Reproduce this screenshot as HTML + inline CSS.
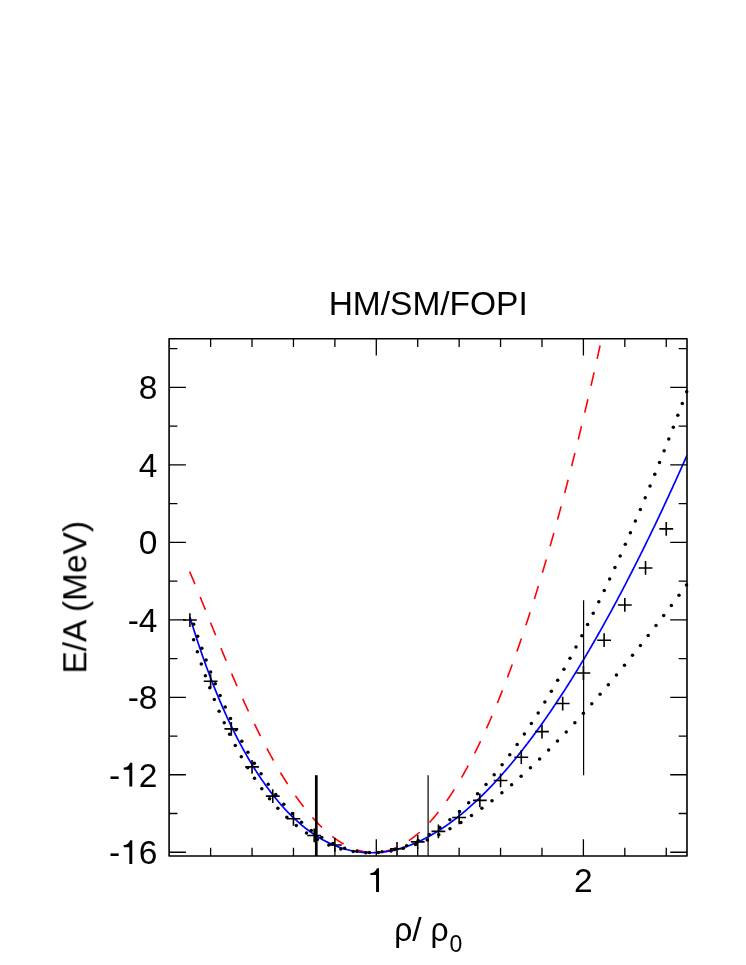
<!DOCTYPE html>
<html><head><meta charset="utf-8"><title>HM/SM/FOPI</title>
<style>html,body{margin:0;padding:0;background:#fff}body{width:746px;height:965px;overflow:hidden;font-family:"Liberation Sans",sans-serif}svg{display:block}</style>
</head><body>
<svg width="746" height="965" viewBox="0 0 746 965">
<defs><clipPath id="c"><rect x="169.10" y="338.80" width="517.90" height="517.20"/></clipPath></defs>
<rect x="0" y="0" width="746" height="965" fill="#fff"/>
<g clip-path="url(#c)" fill="none">
<path d="M189.60 571.50 L189.89 572.18 L190.18 572.85 L190.47 573.53 L190.76 574.22 L191.05 574.90 L191.34 575.58 L191.63 576.27 L191.92 576.96 L192.21 577.65 L192.50 578.34 L192.79 579.03 L193.08 579.72 L193.37 580.42 L193.66 581.11 L193.95 581.81 L194.24 582.51 L194.54 583.21 L194.83 583.91 L195.12 584.61 L195.41 585.32 L195.70 586.02 L195.99 586.72 L196.28 587.43 L196.57 588.14 L196.86 588.84 L197.15 589.55 L197.44 590.26 L197.73 590.97 L198.02 591.68 L198.31 592.39 L198.60 593.10 L198.89 593.82 L199.18 594.53 L199.47 595.24 L199.76 595.96 L200.05 596.67 L200.34 597.39 L200.63 598.10 L200.92 598.82 L201.21 599.53 L201.50 600.25 L201.79 600.97 L202.08 601.69 L202.37 602.40 L202.66 603.12 L202.96 603.84 L203.25 604.56 L203.54 605.28 L203.83 606.00 L204.12 606.71 L204.41 607.43 L204.70 608.15 L204.99 608.87 L205.28 609.59 L205.57 610.31 L205.86 611.03 L206.15 611.75 L206.44 612.47 L206.73 613.19 L207.02 613.91 L207.31 614.63 L207.60 615.35 L207.89 616.07 L208.18 616.79 L208.47 617.51 L208.76 618.23 L209.05 618.95 L209.34 619.67 L209.63 620.39 L209.92 621.11 L210.21 621.83 L210.50 622.55 L210.79 623.27 L211.08 623.99 L211.37 624.70 L211.67 625.42 L211.96 626.14 L212.25 626.86 L212.54 627.57 L212.83 628.29 L213.12 629.01 L213.41 629.72 L213.70 630.44 L213.99 631.16 L214.28 631.87 L214.57 632.59 L214.86 633.30 L215.15 634.02 L215.44 634.73 L215.73 635.44 L216.02 636.16 L216.31 636.87 L216.60 637.58 L216.89 638.29 L217.18 639.00 L217.47 639.71 L217.76 640.43 L218.05 641.14 L218.34 641.84 L218.63 642.55 L218.92 643.26 L219.21 643.97 L219.50 644.68 L219.79 645.38 L220.09 646.09 L220.38 646.80 L220.67 647.50 L220.96 648.21 L221.25 648.91 L221.54 649.61 L221.83 650.32 L222.12 651.02 L222.41 651.72 L222.70 652.42 L222.99 653.12 L223.28 653.82 L223.57 654.52 L223.86 655.22 L224.15 655.92 L224.44 656.61 L224.73 657.31 L225.02 658.00 L225.31 658.70 L225.60 659.39 L225.89 660.09 L226.18 660.78 L226.47 661.47 L226.76 662.16 L227.05 662.85 L227.34 663.54 L227.63 664.23 L227.92 664.92 L228.21 665.61 L228.50 666.30 L228.80 666.98 L229.09 667.67 L229.38 668.35 L229.67 669.04 L229.96 669.72 L230.25 670.40 L230.54 671.08 L230.83 671.76 L231.12 672.44 L231.41 673.12 L231.70 673.80 L231.99 674.48 L232.28 675.15 L232.57 675.83 L232.86 676.50 L233.15 677.18 L233.44 677.85 L233.73 678.52 L234.02 679.19 L234.31 679.86 L234.60 680.53 L234.89 681.20 L235.18 681.87 L235.47 682.54 L235.76 683.20 L236.05 683.87 L236.34 684.53 L236.63 685.19 L236.92 685.85 L237.22 686.52 L237.51 687.18 L237.80 687.84 L238.09 688.49 L238.38 689.15 L238.67 689.81 L238.96 690.46 L239.25 691.12 L239.54 691.77 L239.83 692.42 L240.12 693.08 L240.41 693.73 L240.70 694.38 L240.99 695.02 L241.28 695.67 L241.57 696.32 L241.86 696.96 L242.15 697.61 L242.44 698.25 L242.73 698.89 L243.02 699.54 L243.31 700.18 L243.60 700.82 L243.89 701.45 L244.18 702.09 L244.47 702.73 L244.76 703.36 L245.05 704.00 L245.34 704.63 L245.64 705.26 L245.93 705.89 L246.22 706.52 L246.51 707.15 L246.80 707.78 L247.09 708.41 L247.38 709.03 L247.67 709.66 L247.96 710.28 L248.25 710.90 L248.54 711.53 L248.83 712.15 L249.12 712.77 L249.41 713.38 L249.70 714.00 L249.99 714.62 L250.28 715.23 L250.57 715.85 L250.86 716.46 L251.15 717.07 L251.44 717.68 L251.73 718.29 L252.02 718.90 L252.31 719.50 L252.60 720.11 L252.89 720.71 L253.18 721.32 L253.47 721.92 L253.76 722.52 L254.05 723.12 L254.35 723.72 L254.64 724.32 L254.93 724.91 L255.22 725.51 L255.51 726.10 L255.80 726.70 L256.09 727.29 L256.38 727.88 L256.67 728.47 L256.96 729.06 L257.25 729.65 L257.54 730.23 L257.83 730.82 L258.12 731.40 L258.41 731.98 L258.70 732.56 L258.99 733.14 L259.28 733.72 L259.57 734.30 L259.86 734.88 L260.15 735.45 L260.44 736.03 L260.73 736.60 L261.02 737.17 L261.31 737.74 L261.60 738.31 L261.89 738.88 L262.18 739.45 L262.47 740.01 L262.77 740.58 L263.06 741.14 L263.35 741.70 L263.64 742.26 L263.93 742.82 L264.22 743.38 L264.51 743.93 L264.80 744.49 L265.09 745.04 L265.38 745.60 L265.67 746.15 L265.96 746.70 L266.25 747.25 L266.54 747.80 L266.83 748.34 L267.12 748.89 L267.41 749.43 L267.70 749.98 L267.99 750.52 L268.28 751.06 L268.57 751.60 L268.86 752.14 L269.15 752.67 L269.44 753.21 L269.73 753.74 L270.02 754.28 L270.31 754.81 L270.60 755.34 L270.89 755.87 L271.19 756.39 L271.48 756.92 L271.77 757.45 L272.06 757.97 L272.35 758.49 L272.64 759.01 L272.93 759.53 L273.22 760.05 L273.51 760.57 L273.80 761.08 L274.09 761.60 L274.38 762.11 L274.67 762.62 L274.96 763.14 L275.25 763.64 L275.54 764.15 L275.83 764.66 L276.12 765.16 L276.41 765.67 L276.70 766.17 L276.99 766.67 L277.28 767.17 L277.57 767.67 L277.86 768.17 L278.15 768.67 L278.44 769.16 L278.73 769.65 L279.02 770.15 L279.31 770.64 L279.60 771.13 L279.90 771.61 L280.19 772.10 L280.48 772.59 L280.77 773.07 L281.06 773.55 L281.35 774.03 L281.64 774.51 L281.93 774.99 L282.22 775.47 L282.51 775.95 L282.80 776.42 L283.09 776.89 L283.38 777.36 L283.67 777.83 L283.96 778.30 L284.25 778.77 L284.54 779.24 L284.83 779.70 L285.12 780.17 L285.41 780.63 L285.70 781.09 L285.99 781.55 L286.28 782.01 L286.57 782.46 L286.86 782.92 L287.15 783.37 L287.44 783.83 L287.73 784.28 L288.02 784.73 L288.32 785.17 L288.61 785.62 L288.90 786.07 L289.19 786.51 L289.48 786.95 L289.77 787.40 L290.06 787.84 L290.35 788.27 L290.64 788.71 L290.93 789.15 L291.22 789.58 L291.51 790.01 L291.80 790.45 L292.09 790.88 L292.38 791.30 L292.67 791.73 L292.96 792.16 L293.25 792.58 L293.54 793.01 L293.83 793.43 L294.12 793.85 L294.41 794.27 L294.70 794.68 L294.99 795.10 L295.28 795.51 L295.57 795.93 L295.86 796.34 L296.15 796.75 L296.44 797.16 L296.74 797.57 L297.03 797.97 L297.32 798.38 L297.61 798.78 L297.90 799.18 L298.19 799.58 L298.48 799.98 L298.77 800.38 L299.06 800.77 L299.35 801.17 L299.64 801.56 L299.93 801.95 L300.22 802.34 L300.51 802.73 L300.80 803.12 L301.09 803.51 L301.38 803.89 L301.67 804.27 L301.96 804.66 L302.25 805.04 L302.54 805.41 L302.83 805.79 L303.12 806.17 L303.41 806.54 L303.70 806.91 L303.99 807.29 L304.28 807.66 L304.57 808.02 L304.86 808.39 L305.15 808.76 L305.45 809.12 L305.74 809.48 L306.03 809.85 L306.32 810.21 L306.61 810.56 L306.90 810.92 L307.19 811.28 L307.48 811.63 L307.77 811.98 L308.06 812.33 L308.35 812.68 L308.64 813.03 L308.93 813.38 L309.22 813.72 L309.51 814.07 L309.80 814.41 L310.09 814.75 L310.38 815.09 L310.67 815.43 L310.96 815.76 L311.25 816.10 L311.54 816.43 L311.83 816.76 L312.12 817.09 L312.41 817.42 L312.70 817.75 L312.99 818.07 L313.28 818.40 L313.57 818.72 L313.87 819.04 L314.16 819.36 L314.45 819.68 L314.74 820.00 L315.03 820.31 L315.32 820.63 L315.61 820.94 L315.90 821.25 L316.19 821.56 L316.48 821.87 L316.77 822.18 L317.06 822.48 L317.35 822.78 L317.64 823.09 L317.93 823.39 L318.22 823.69 L318.51 823.98 L318.80 824.28 L319.09 824.57 L319.38 824.87 L319.67 825.16 L319.96 825.45 L320.25 825.74 L320.54 826.02 L320.83 826.31 L321.12 826.59 L321.41 826.88 L321.70 827.16 L321.99 827.44 L322.29 827.71 L322.58 827.99 L322.87 828.27 L323.16 828.54 L323.45 828.81 L323.74 829.08 L324.03 829.35 L324.32 829.62 L324.61 829.88 L324.90 830.15 L325.19 830.41 L325.48 830.67 L325.77 830.93 L326.06 831.19 L326.35 831.45 L326.64 831.70 L326.93 831.96 L327.22 832.21 L327.51 832.46 L327.80 832.71 L328.09 832.96 L328.38 833.20 L328.67 833.45 L328.96 833.69 L329.25 833.93 L329.54 834.17 L329.83 834.41 L330.12 834.65 L330.41 834.88 L330.70 835.12 L331.00 835.35 L331.29 835.58 L331.58 835.81 L331.87 836.04 L332.16 836.26 L332.45 836.49 L332.74 836.71 L333.03 836.93 L333.32 837.15 L333.61 837.37 L333.90 837.59 L334.19 837.80 L334.48 838.02 L334.77 838.23 L335.06 838.44 L335.35 838.65 L335.64 838.86 L335.93 839.06 L336.22 839.27 L336.51 839.47 L336.80 839.67 L337.09 839.87 L337.38 840.07 L337.67 840.27 L337.96 840.46 L338.25 840.66 L338.54 840.85 L338.83 841.04 L339.12 841.23 L339.42 841.41 L339.71 841.60 L340.00 841.79 L340.29 841.97 L340.58 842.15 L340.87 842.33 L341.16 842.51 L341.45 842.68 L341.74 842.86 L342.03 843.03 L342.32 843.21 L342.61 843.38 L342.90 843.54 L343.19 843.71 L343.48 843.88 L343.77 844.04 L344.06 844.20 L344.35 844.37 L344.64 844.53 L344.93 844.68 L345.22 844.84 L345.51 845.00 L345.80 845.15 L346.09 845.30 L346.38 845.45 L346.67 845.60 L346.96 845.75 L347.25 845.89 L347.54 846.04 L347.84 846.18 L348.13 846.32 L348.42 846.46 L348.71 846.60 L349.00 846.73 L349.29 846.87 L349.58 847.00 L349.87 847.13 L350.16 847.26 L350.45 847.39 L350.74 847.52 L351.03 847.64 L351.32 847.76 L351.61 847.89 L351.90 848.01 L352.19 848.12 L352.48 848.24 L352.77 848.36 L353.06 848.47 L353.35 848.58 L353.64 848.70 L353.93 848.80 L354.22 848.91 L354.51 849.02 L354.80 849.12 L355.09 849.23 L355.38 849.33 L355.67 849.43 L355.96 849.53 L356.25 849.62 L356.55 849.72 L356.84 849.81 L357.13 849.90 L357.42 849.99 L357.71 850.08 L358.00 850.17 L358.29 850.25 L358.58 850.34 L358.87 850.42 L359.16 850.50 L359.45 850.58 L359.74 850.66 L360.03 850.74 L360.32 850.81 L360.61 850.88 L360.90 850.95 L361.19 851.02 L361.48 851.09 L361.77 851.16 L362.06 851.22 L362.35 851.29 L362.64 851.35 L362.93 851.41 L363.22 851.47 L363.51 851.52 L363.80 851.58 L364.09 851.63 L364.38 851.69 L364.67 851.74 L364.97 851.79 L365.26 851.83 L365.55 851.88 L365.84 851.92 L366.13 851.97 L366.42 852.01 L366.71 852.05 L367.00 852.08 L367.29 852.12 L367.58 852.15 L367.87 852.19 L368.16 852.22 L368.45 852.25 L368.74 852.28 L369.03 852.30 L369.32 852.33 L369.61 852.35 L369.90 852.37 L370.19 852.39 L370.48 852.41 L370.77 852.43 L371.06 852.45 L371.35 852.46 L371.64 852.47 L371.93 852.48 L372.22 852.49 L372.51 852.50 L372.80 852.50 L373.09 852.51 L373.38 852.51 L373.68 852.51 L373.97 852.51 L374.26 852.51 L374.55 852.50 L374.84 852.50 L375.13 852.49 L375.42 852.48 L375.71 852.47 L376.00 852.46 L376.29 852.45 L376.58 852.43 L376.87 852.42 L377.16 852.40 L377.45 852.38 L377.74 852.36 L378.03 852.33 L378.32 852.31 L378.61 852.28 L378.90 852.25 L379.19 852.22 L379.48 852.19 L379.77 852.16 L380.06 852.13 L380.35 852.09 L380.64 852.05 L380.93 852.01 L381.22 851.97 L381.51 851.93 L381.80 851.88 L382.10 851.84 L382.39 851.79 L382.68 851.74 L382.97 851.69 L383.26 851.64 L383.55 851.58 L383.84 851.53 L384.13 851.47 L384.42 851.41 L384.71 851.35 L385.00 851.29 L385.29 851.23 L385.58 851.16 L385.87 851.10 L386.16 851.03 L386.45 850.96 L386.74 850.88 L387.03 850.81 L387.32 850.74 L387.61 850.66 L387.90 850.58 L388.19 850.50 L388.48 850.42 L388.77 850.34 L389.06 850.25 L389.35 850.17 L389.64 850.08 L389.93 849.99 L390.22 849.90 L390.52 849.80 L390.81 849.71 L391.10 849.61 L391.39 849.52 L391.68 849.42 L391.97 849.31 L392.26 849.21 L392.55 849.11 L392.84 849.00 L393.13 848.89 L393.42 848.78 L393.71 848.67 L394.00 848.56 L394.29 848.45 L394.58 848.33 L394.87 848.21 L395.16 848.10 L395.45 847.97 L395.74 847.85 L396.03 847.73 L396.32 847.60 L396.61 847.48 L396.90 847.35 L397.19 847.22 L397.48 847.08 L397.77 846.95 L398.06 846.82 L398.35 846.68 L398.64 846.54 L398.93 846.40 L399.23 846.26 L399.52 846.11 L399.81 845.97 L400.10 845.82 L400.39 845.67 L400.68 845.52 L400.97 845.37 L401.26 845.22 L401.55 845.06 L401.84 844.91 L402.13 844.75 L402.42 844.59 L402.71 844.43 L403.00 844.26 L403.29 844.10 L403.58 843.93 L403.87 843.76 L404.16 843.59 L404.45 843.42 L404.74 843.25 L405.03 843.08 L405.32 842.90 L405.61 842.72 L405.90 842.54 L406.19 842.36 L406.48 842.18 L406.77 841.99 L407.06 841.81 L407.35 841.62 L407.65 841.43 L407.94 841.24 L408.23 841.05 L408.52 840.85 L408.81 840.65 L409.10 840.46 L409.39 840.26 L409.68 840.06 L409.97 839.85 L410.26 839.65 L410.55 839.44 L410.84 839.24 L411.13 839.03 L411.42 838.82 L411.71 838.60 L412.00 838.39 L412.29 838.17 L412.58 837.96 L412.87 837.74 L413.16 837.52 L413.45 837.29 L413.74 837.07 L414.03 836.84 L414.32 836.62 L414.61 836.39 L414.90 836.16 L415.19 835.92 L415.48 835.69 L415.77 835.45 L416.07 835.22 L416.36 834.98 L416.65 834.74 L416.94 834.49 L417.23 834.25 L417.52 834.01 L417.81 833.76 L418.10 833.51 L418.39 833.26 L418.68 833.01 L418.97 832.75 L419.26 832.50 L419.55 832.24 L419.84 831.98 L420.13 831.72 L420.42 831.46 L420.71 831.19 L421.00 830.93 L421.29 830.66 L421.58 830.39 L421.87 830.12 L422.16 829.85 L422.45 829.58 L422.74 829.30 L423.03 829.02 L423.32 828.75 L423.61 828.47 L423.90 828.18 L424.19 827.90 L424.48 827.61 L424.78 827.33 L425.07 827.04 L425.36 826.75 L425.65 826.46 L425.94 826.16 L426.23 825.87 L426.52 825.57 L426.81 825.27 L427.10 824.97 L427.39 824.67 L427.68 824.37 L427.97 824.06 L428.26 823.75 L428.55 823.45 L428.84 823.14 L429.13 822.82 L429.42 822.51 L429.71 822.19 L430.00 821.88 L430.29 821.56 L430.58 821.24 L430.87 820.92 L431.16 820.59 L431.45 820.27 L431.74 819.94 L432.03 819.61 L432.32 819.28 L432.61 818.95 L432.90 818.62 L433.20 818.28 L433.49 817.95 L433.78 817.61 L434.07 817.27 L434.36 816.92 L434.65 816.58 L434.94 816.24 L435.23 815.89 L435.52 815.54 L435.81 815.19 L436.10 814.84 L436.39 814.49 L436.68 814.13 L436.97 813.77 L437.26 813.41 L437.55 813.05 L437.84 812.69 L438.13 812.33 L438.42 811.96 L438.71 811.60 L439.00 811.23 L439.29 810.86 L439.58 810.49 L439.87 810.11 L440.16 809.74 L440.45 809.36 L440.74 808.98 L441.03 808.60 L441.32 808.22 L441.62 807.84 L441.91 807.45 L442.20 807.06 L442.49 806.68 L442.78 806.29 L443.07 805.89 L443.36 805.50 L443.65 805.10 L443.94 804.71 L444.23 804.31 L444.52 803.91 L444.81 803.51 L445.10 803.10 L445.39 802.70 L445.68 802.29 L445.97 801.88 L446.26 801.47 L446.55 801.06 L446.84 800.65 L447.13 800.23 L447.42 799.81 L447.71 799.39 L448.00 798.97 L448.29 798.55 L448.58 798.13 L448.87 797.70 L449.16 797.28 L449.45 796.85 L449.74 796.42 L450.03 795.98 L450.33 795.55 L450.62 795.12 L450.91 794.68 L451.20 794.24 L451.49 793.80 L451.78 793.36 L452.07 792.91 L452.36 792.47 L452.65 792.02 L452.94 791.57 L453.23 791.12 L453.52 790.67 L453.81 790.21 L454.10 789.76 L454.39 789.30 L454.68 788.84 L454.97 788.38 L455.26 787.92 L455.55 787.46 L455.84 786.99 L456.13 786.52 L456.42 786.05 L456.71 785.58 L457.00 785.11 L457.29 784.64 L457.58 784.16 L457.87 783.68 L458.16 783.20 L458.45 782.72 L458.75 782.24 L459.04 781.76 L459.33 781.27 L459.62 780.78 L459.91 780.29 L460.20 779.80 L460.49 779.31 L460.78 778.82 L461.07 778.32 L461.36 777.82 L461.65 777.32 L461.94 776.82 L462.23 776.32 L462.52 775.82 L462.81 775.31 L463.10 774.80 L463.39 774.29 L463.68 773.78 L463.97 773.27 L464.26 772.75 L464.55 772.24 L464.84 771.72 L465.13 771.20 L465.42 770.68 L465.71 770.16 L466.00 769.63 L466.29 769.11 L466.58 768.58 L466.87 768.05 L467.17 767.52 L467.46 766.98 L467.75 766.45 L468.04 765.91 L468.33 765.38 L468.62 764.84 L468.91 764.29 L469.20 763.75 L469.49 763.21 L469.78 762.66 L470.07 762.11 L470.36 761.56 L470.65 761.01 L470.94 760.46 L471.23 759.90 L471.52 759.35 L471.81 758.79 L472.10 758.23 L472.39 757.67 L472.68 757.10 L472.97 756.54 L473.26 755.97 L473.55 755.40 L473.84 754.83 L474.13 754.26 L474.42 753.69 L474.71 753.11 L475.00 752.54 L475.29 751.96 L475.58 751.38 L475.88 750.80 L476.17 750.21 L476.46 749.63 L476.75 749.04 L477.04 748.45 L477.33 747.86 L477.62 747.27 L477.91 746.67 L478.20 746.08 L478.49 745.48 L478.78 744.88 L479.07 744.28 L479.36 743.68 L479.65 743.08 L479.94 742.47 L480.23 741.86 L480.52 741.26 L480.81 740.64 L481.10 740.03 L481.39 739.42 L481.68 738.80 L481.97 738.19 L482.26 737.57 L482.55 736.95 L482.84 736.32 L483.13 735.70 L483.42 735.07 L483.71 734.45 L484.00 733.82 L484.30 733.18 L484.59 732.55 L484.88 731.92 L485.17 731.28 L485.46 730.64 L485.75 730.00 L486.04 729.36 L486.33 728.72 L486.62 728.08 L486.91 727.43 L487.20 726.78 L487.49 726.13 L487.78 725.48 L488.07 724.83 L488.36 724.17 L488.65 723.52 L488.94 722.86 L489.23 722.20 L489.52 721.54 L489.81 720.88 L490.10 720.21 L490.39 719.54 L490.68 718.88 L490.97 718.21 L491.26 717.53 L491.55 716.86 L491.84 716.19 L492.13 715.51 L492.42 714.83 L492.71 714.15 L493.01 713.47 L493.30 712.79 L493.59 712.10 L493.88 711.41 L494.17 710.72 L494.46 710.03 L494.75 709.34 L495.04 708.65 L495.33 707.95 L495.62 707.26 L495.91 706.56 L496.20 705.86 L496.49 705.16 L496.78 704.45 L497.07 703.75 L497.36 703.04 L497.65 702.33 L497.94 701.62 L498.23 700.91 L498.52 700.19 L498.81 699.48 L499.10 698.76 L499.39 698.04 L499.68 697.32 L499.97 696.60 L500.26 695.87 L500.55 695.15 L500.84 694.42 L501.13 693.69 L501.43 692.96 L501.72 692.23 L502.01 691.49 L502.30 690.76 L502.59 690.02 L502.88 689.28 L503.17 688.54 L503.46 687.79 L503.75 687.05 L504.04 686.30 L504.33 685.56 L504.62 684.81 L504.91 684.05 L505.20 683.30 L505.49 682.55 L505.78 681.79 L506.07 681.03 L506.36 680.27 L506.65 679.51 L506.94 678.75 L507.23 677.98 L507.52 677.21 L507.81 676.45 L508.10 675.68 L508.39 674.90 L508.68 674.13 L508.97 673.36 L509.26 672.58 L509.55 671.80 L509.85 671.02 L510.14 670.24 L510.43 669.45 L510.72 668.67 L511.01 667.88 L511.30 667.09 L511.59 666.30 L511.88 665.51 L512.17 664.72 L512.46 663.92 L512.75 663.12 L513.04 662.32 L513.33 661.52 L513.62 660.72 L513.91 659.92 L514.20 659.11 L514.49 658.30 L514.78 657.49 L515.07 656.68 L515.36 655.87 L515.65 655.05 L515.94 654.24 L516.23 653.42 L516.52 652.60 L516.81 651.78 L517.10 650.96 L517.39 650.13 L517.68 649.31 L517.97 648.48 L518.26 647.65 L518.56 646.82 L518.85 645.98 L519.14 645.15 L519.43 644.31 L519.72 643.47 L520.01 642.63 L520.30 641.79 L520.59 640.95 L520.88 640.10 L521.17 639.26 L521.46 638.41 L521.75 637.56 L522.04 636.71 L522.33 635.85 L522.62 635.00 L522.91 634.14 L523.20 633.28 L523.49 632.42 L523.78 631.56 L524.07 630.69 L524.36 629.83 L524.65 628.96 L524.94 628.09 L525.23 627.22 L525.52 626.35 L525.81 625.48 L526.10 624.60 L526.39 623.72 L526.68 622.84 L526.98 621.96 L527.27 621.08 L527.56 620.19 L527.85 619.31 L528.14 618.42 L528.43 617.53 L528.72 616.64 L529.01 615.75 L529.30 614.85 L529.59 613.96 L529.88 613.06 L530.17 612.16 L530.46 611.26 L530.75 610.35 L531.04 609.45 L531.33 608.54 L531.62 607.63 L531.91 606.72 L532.20 605.81 L532.49 604.90 L532.78 603.98 L533.07 603.07 L533.36 602.15 L533.65 601.23 L533.94 600.31 L534.23 599.38 L534.52 598.46 L534.81 597.53 L535.10 596.60 L535.40 595.67 L535.69 594.74 L535.98 593.80 L536.27 592.87 L536.56 591.93 L536.85 590.99 L537.14 590.05 L537.43 589.11 L537.72 588.16 L538.01 587.22 L538.30 586.27 L538.59 585.32 L538.88 584.37 L539.17 583.42 L539.46 582.46 L539.75 581.51 L540.04 580.55 L540.33 579.59 L540.62 578.63 L540.91 577.67 L541.20 576.70 L541.49 575.73 L541.78 574.77 L542.07 573.80 L542.36 572.82 L542.65 571.85 L542.94 570.88 L543.23 569.90 L543.52 568.92 L543.81 567.94 L544.11 566.96 L544.40 565.98 L544.69 564.99 L544.98 564.00 L545.27 563.01 L545.56 562.02 L545.85 561.03 L546.14 560.04 L546.43 559.04 L546.72 558.05 L547.01 557.05 L547.30 556.05 L547.59 555.04 L547.88 554.04 L548.17 553.03 L548.46 552.03 L548.75 551.02 L549.04 550.01 L549.33 548.99 L549.62 547.98 L549.91 546.96 L550.20 545.94 L550.49 544.92 L550.78 543.90 L551.07 542.88 L551.36 541.86 L551.65 540.83 L551.94 539.80 L552.23 538.77 L552.53 537.74 L552.82 536.71 L553.11 535.67 L553.40 534.63 L553.69 533.60 L553.98 532.56 L554.27 531.51 L554.56 530.47 L554.85 529.43 L555.14 528.38 L555.43 527.33 L555.72 526.28 L556.01 525.23 L556.30 524.17 L556.59 523.12 L556.88 522.06 L557.17 521.00 L557.46 519.94 L557.75 518.88 L558.04 517.81 L558.33 516.75 L558.62 515.68 L558.91 514.61 L559.20 513.54 L559.49 512.47 L559.78 511.39 L560.07 510.32 L560.36 509.24 L560.65 508.16 L560.95 507.08 L561.24 506.00 L561.53 504.91 L561.82 503.82 L562.11 502.74 L562.40 501.65 L562.69 500.56 L562.98 499.46 L563.27 498.37 L563.56 497.27 L563.85 496.17 L564.14 495.07 L564.43 493.97 L564.72 492.87 L565.01 491.76 L565.30 490.65 L565.59 489.54 L565.88 488.43 L566.17 487.32 L566.46 486.21 L566.75 485.09 L567.04 483.98 L567.33 482.86 L567.62 481.74 L567.91 480.61 L568.20 479.49 L568.49 478.36 L568.78 477.23 L569.07 476.11 L569.36 474.97 L569.66 473.84 L569.95 472.71 L570.24 471.57 L570.53 470.43 L570.82 469.29 L571.11 468.15 L571.40 467.01 L571.69 465.86 L571.98 464.72 L572.27 463.57 L572.56 462.42 L572.85 461.27 L573.14 460.11 L573.43 458.96 L573.72 457.80 L574.01 456.64 L574.30 455.48 L574.59 454.32 L574.88 453.16 L575.17 451.99 L575.46 450.82 L575.75 449.66 L576.04 448.49 L576.33 447.31 L576.62 446.14 L576.91 444.96 L577.20 443.79 L577.49 442.61 L577.78 441.43 L578.08 440.24 L578.37 439.06 L578.66 437.87 L578.95 436.68 L579.24 435.49 L579.53 434.30 L579.82 433.11 L580.11 431.92 L580.40 430.72 L580.69 429.52 L580.98 428.32 L581.27 427.12 L581.56 425.92 L581.85 424.71 L582.14 423.51 L582.43 422.30 L582.72 421.09 L583.01 419.87 L583.30 418.66 L583.59 417.45 L583.88 416.23 L584.17 415.01 L584.46 413.79 L584.75 412.57 L585.04 411.34 L585.33 410.12 L585.62 408.89 L585.91 407.66 L586.20 406.43 L586.50 405.20 L586.79 403.96 L587.08 402.73 L587.37 401.49 L587.66 400.25 L587.95 399.01 L588.24 397.77 L588.53 396.52 L588.82 395.28 L589.11 394.03 L589.40 392.78 L589.69 391.53 L589.98 390.27 L590.27 389.02 L590.56 387.76 L590.85 386.50 L591.14 385.24 L591.43 383.98 L591.72 382.72 L592.01 381.45 L592.30 380.19 L592.59 378.92 L592.88 377.65 L593.17 376.37 L593.46 375.10 L593.75 373.82 L594.04 372.55 L594.33 371.27 L594.62 369.99 L594.91 368.70 L595.21 367.42 L595.50 366.13 L595.79 364.85 L596.08 363.56 L596.37 362.27 L596.66 360.97 L596.95 359.68 L597.24 358.38 L597.53 357.09 L597.82 355.79 L598.11 354.48 L598.40 353.18 L598.69 351.88 L598.98 350.57 L599.27 349.26 L599.56 347.95 L599.85 346.64 L600.14 345.33 L600.43 344.01 L600.72 342.69 L601.01 341.38 L601.30 340.05 L601.59 338.73 L601.88 337.41 L602.17 336.08 L602.46 334.76 L602.75 333.43 L603.04 332.10 L603.33 330.76 L603.63 329.43 L603.92 328.09 L604.21 326.76 L604.50 325.42 L604.79 324.08 L605.08 322.73 L605.37 321.39 L605.66 320.04 L605.95 318.69 L606.24 317.34 L606.53 315.99 L606.82 314.64 L607.11 313.29 L607.40 311.93 L607.69 310.57 L607.98 309.21 L608.27 307.85 L608.56 306.49 L608.85 305.12 L609.14 303.75 L609.43 302.38 L609.72 301.01 L610.01 299.64 L610.30 298.27 L610.59 296.89 L610.88 295.52 L611.17 294.14 L611.46 292.76 L611.75 291.37 L612.05 289.99 L612.34 288.60 L612.63 287.22 L612.92 285.83 L613.21 284.43 L613.50 283.04 L613.79 281.65 L614.08 280.25 L614.37 278.85 L614.66 277.45 L614.95 276.05 L615.24 274.65 L615.53 273.24 L615.82 271.84 L616.11 270.43 L616.40 269.02 L616.69 267.61 L616.98 266.19 L617.27 264.78 L617.56 263.36 L617.85 261.94 L618.14 260.52 L618.43 259.10 L618.72 257.68 L619.01 256.25 L619.30 254.82 L619.59 253.39 L619.88 251.96 L620.17 250.53 L620.46 249.10 L620.76 247.66 L621.05 246.22 L621.34 244.78 L621.63 243.34 L621.92 241.90 L622.21 240.46 L622.50 239.01 L622.79 237.56 L623.08 236.11 L623.37 234.66 L623.66 233.21 L623.95 231.75 L624.24 230.30 L624.53 228.84 L624.82 227.38" stroke="#ff0000" stroke-width="1.60" stroke-dasharray="13.70 13.90" stroke-dashoffset="0.00"/>
<path d="M189.91 617.05 L190.74 619.78 L191.57 622.49 L192.40 625.17 L193.23 627.82 L194.06 630.45 L194.89 633.05 L195.72 635.63 L196.55 638.18 L197.38 640.70 L198.21 643.20 L199.04 645.68 L199.87 648.14 L200.70 650.57 L201.53 652.98 L202.36 655.36 L203.19 657.72 L204.02 660.06 L204.85 662.38 L205.68 664.68 L206.51 666.96 L207.34 669.21 L208.17 671.44 L209.00 673.66 L209.82 675.85 L210.65 678.02 L211.48 680.18 L212.31 682.31 L213.14 684.42 L213.97 686.52 L214.80 688.59 L215.63 690.65 L216.46 692.69 L217.29 694.70 L218.12 696.71 L218.95 698.69 L219.78 700.65 L220.61 702.60 L221.44 704.53 L222.27 706.44 L223.10 708.33 L223.93 710.21 L224.76 712.07 L225.59 713.91 L226.42 715.74 L227.25 717.55 L228.08 719.34 L228.91 721.12 L229.74 722.88 L230.57 724.63 L231.40 726.36 L232.23 728.07 L233.06 729.77 L233.89 731.45 L234.72 733.12 L235.55 734.77 L236.38 736.41 L237.21 738.03 L238.04 739.63 L238.87 741.23 L239.70 742.80 L240.53 744.37 L241.36 745.91 L242.19 747.45 L243.02 748.97 L243.85 750.47 L244.68 751.96 L245.51 753.44 L246.34 754.90 L247.17 756.35 L247.99 757.79 L248.82 759.21 L249.65 760.62 L250.48 762.01 L251.31 763.40 L252.14 764.77 L252.97 766.12 L253.80 767.46 L254.63 768.79 L255.46 770.11 L256.29 771.41 L257.12 772.70 L257.95 773.98 L258.78 775.25 L259.61 776.50 L260.44 777.74 L261.27 778.97 L262.10 780.19 L262.93 781.39 L263.76 782.58 L264.59 783.76 L265.42 784.93 L266.25 786.09 L267.08 787.23 L267.91 788.36 L268.74 789.48 L269.57 790.59 L270.40 791.69 L271.23 792.77 L272.06 793.85 L272.89 794.91 L273.72 795.96 L274.55 797.00 L275.38 798.03 L276.21 799.04 L277.04 800.05 L277.87 801.05 L278.70 802.03 L279.53 803.00 L280.36 803.96 L281.19 804.92 L282.02 805.86 L282.85 806.79 L283.68 807.71 L284.51 808.61 L285.34 809.51 L286.16 810.40 L286.99 811.27 L287.82 812.14 L288.65 813.00 L289.48 813.84 L290.31 814.68 L291.14 815.50 L291.97 816.32 L292.80 817.12 L293.63 817.92 L294.46 818.70 L295.29 819.48 L296.12 820.24 L296.95 820.99 L297.78 821.74 L298.61 822.47 L299.44 823.20 L300.27 823.91 L301.10 824.62 L301.93 825.31 L302.76 826.00 L303.59 826.68 L304.42 827.34 L305.25 828.00 L306.08 828.65 L306.91 829.29 L307.74 829.92 L308.57 830.54 L309.40 831.15 L310.23 831.75 L311.06 832.34 L311.89 832.92 L312.72 833.50 L313.55 834.06 L314.38 834.62 L315.21 835.16 L316.04 835.70 L316.87 836.23 L317.70 836.75 L318.53 837.26 L319.36 837.76 L320.19 838.25 L321.02 838.74 L321.85 839.21 L322.68 839.68 L323.51 840.14 L324.33 840.58 L325.16 841.02 L325.99 841.46 L326.82 841.88 L327.65 842.29 L328.48 842.70 L329.31 843.10 L330.14 843.49 L330.97 843.87 L331.80 844.24 L332.63 844.60 L333.46 844.96 L334.29 845.30 L335.12 845.64 L335.95 845.97 L336.78 846.30 L337.61 846.61 L338.44 846.92 L339.27 847.21 L340.10 847.50 L340.93 847.79 L341.76 848.06 L342.59 848.33 L343.42 848.58 L344.25 848.83 L345.08 849.07 L345.91 849.31 L346.74 849.53 L347.57 849.75 L348.40 849.96 L349.23 850.16 L350.06 850.36 L350.89 850.54 L351.72 850.72 L352.55 850.89 L353.38 851.06 L354.21 851.21 L355.04 851.36 L355.87 851.50 L356.70 851.64 L357.53 851.76 L358.36 851.88 L359.19 851.99 L360.02 852.09 L360.85 852.19 L361.68 852.28 L362.50 852.36 L363.33 852.43 L364.16 852.49 L364.99 852.55 L365.82 852.60 L366.65 852.65 L367.48 852.68 L368.31 852.71 L369.14 852.73 L369.97 852.75 L370.80 852.76 L371.63 852.76 L372.46 852.75 L373.29 852.73 L374.12 852.71 L374.95 852.68 L375.78 852.65 L376.61 852.61 L377.44 852.56 L378.27 852.50 L379.10 852.44 L379.93 852.36 L380.76 852.29 L381.59 852.20 L382.42 852.11 L383.25 852.01 L384.08 851.91 L384.91 851.79 L385.74 851.68 L386.57 851.55 L387.40 851.42 L388.23 851.28 L389.06 851.13 L389.89 850.98 L390.72 850.82 L391.55 850.65 L392.38 850.48 L393.21 850.30 L394.04 850.11 L394.87 849.92 L395.70 849.72 L396.53 849.51 L397.36 849.30 L398.19 849.08 L399.02 848.85 L399.85 848.62 L400.67 848.38 L401.50 848.13 L402.33 847.88 L403.16 847.62 L403.99 847.36 L404.82 847.08 L405.65 846.81 L406.48 846.52 L407.31 846.23 L408.14 845.93 L408.97 845.63 L409.80 845.32 L410.63 845.00 L411.46 844.68 L412.29 844.35 L413.12 844.01 L413.95 843.67 L414.78 843.32 L415.61 842.97 L416.44 842.61 L417.27 842.24 L418.10 841.87 L418.93 841.49 L419.76 841.10 L420.59 840.71 L421.42 840.32 L422.25 839.91 L423.08 839.50 L423.91 839.09 L424.74 838.66 L425.57 838.24 L426.40 837.80 L427.23 837.36 L428.06 836.92 L428.89 836.46 L429.72 836.00 L430.55 835.54 L431.38 835.07 L432.21 834.59 L433.04 834.11 L433.87 833.62 L434.70 833.13 L435.53 832.63 L436.36 832.12 L437.19 831.61 L438.02 831.10 L438.84 830.57 L439.67 830.04 L440.50 829.51 L441.33 828.97 L442.16 828.42 L442.99 827.87 L443.82 827.31 L444.65 826.75 L445.48 826.18 L446.31 825.60 L447.14 825.02 L447.97 824.43 L448.80 823.84 L449.63 823.24 L450.46 822.64 L451.29 822.03 L452.12 821.41 L452.95 820.79 L453.78 820.17 L454.61 819.54 L455.44 818.90 L456.27 818.26 L457.10 817.61 L457.93 816.95 L458.76 816.29 L459.59 815.63 L460.42 814.96 L461.25 814.28 L462.08 813.60 L462.91 812.91 L463.74 812.22 L464.57 811.52 L465.40 810.81 L466.23 810.11 L467.06 809.39 L467.89 808.67 L468.72 807.94 L469.55 807.21 L470.38 806.48 L471.21 805.74 L472.04 804.99 L472.87 804.24 L473.70 803.48 L474.53 802.72 L475.36 801.95 L476.19 801.17 L477.01 800.39 L477.84 799.61 L478.67 798.82 L479.50 798.02 L480.33 797.22 L481.16 796.42 L481.99 795.61 L482.82 794.79 L483.65 793.97 L484.48 793.14 L485.31 792.31 L486.14 791.48 L486.97 790.63 L487.80 789.79 L488.63 788.93 L489.46 788.08 L490.29 787.21 L491.12 786.35 L491.95 785.47 L492.78 784.60 L493.61 783.71 L494.44 782.82 L495.27 781.93 L496.10 781.03 L496.93 780.13 L497.76 779.22 L498.59 778.31 L499.42 777.39 L500.25 776.46 L501.08 775.54 L501.91 774.60 L502.74 773.66 L503.57 772.72 L504.40 771.77 L505.23 770.82 L506.06 769.86 L506.89 768.90 L507.72 767.93 L508.55 766.95 L509.38 765.98 L510.21 764.99 L511.04 764.00 L511.87 763.01 L512.70 762.01 L513.53 761.01 L514.36 760.00 L515.18 758.99 L516.01 757.97 L516.84 756.95 L517.67 755.92 L518.50 754.89 L519.33 753.85 L520.16 752.81 L520.99 751.77 L521.82 750.72 L522.65 749.66 L523.48 748.60 L524.31 747.53 L525.14 746.46 L525.97 745.39 L526.80 744.31 L527.63 743.22 L528.46 742.13 L529.29 741.04 L530.12 739.94 L530.95 738.84 L531.78 737.73 L532.61 736.62 L533.44 735.50 L534.27 734.38 L535.10 733.25 L535.93 732.12 L536.76 730.98 L537.59 729.84 L538.42 728.70 L539.25 727.55 L540.08 726.39 L540.91 725.23 L541.74 724.07 L542.57 722.90 L543.40 721.73 L544.23 720.55 L545.06 719.37 L545.89 718.18 L546.72 716.99 L547.55 715.79 L548.38 714.59 L549.21 713.39 L550.04 712.18 L550.87 710.96 L551.70 709.74 L552.53 708.52 L553.35 707.29 L554.18 706.06 L555.01 704.83 L555.84 703.58 L556.67 702.34 L557.50 701.09 L558.33 699.83 L559.16 698.58 L559.99 697.31 L560.82 696.04 L561.65 694.77 L562.48 693.49 L563.31 692.21 L564.14 690.93 L564.97 689.64 L565.80 688.34 L566.63 687.05 L567.46 685.74 L568.29 684.43 L569.12 683.12 L569.95 681.81 L570.78 680.49 L571.61 679.16 L572.44 677.83 L573.27 676.50 L574.10 675.16 L574.93 673.82 L575.76 672.47 L576.59 671.12 L577.42 669.77 L578.25 668.41 L579.08 667.04 L579.91 665.67 L580.74 664.30 L581.57 662.93 L582.40 661.55 L583.23 660.16 L584.06 658.77 L584.89 657.38 L585.72 655.98 L586.55 654.58 L587.38 653.17 L588.21 651.76 L589.04 650.35 L589.87 648.93 L590.70 647.50 L591.52 646.08 L592.35 644.65 L593.18 643.21 L594.01 641.77 L594.84 640.33 L595.67 638.88 L596.50 637.42 L597.33 635.97 L598.16 634.51 L598.99 633.04 L599.82 631.57 L600.65 630.10 L601.48 628.62 L602.31 627.14 L603.14 625.66 L603.97 624.17 L604.80 622.67 L605.63 621.18 L606.46 619.67 L607.29 618.17 L608.12 616.66 L608.95 615.15 L609.78 613.63 L610.61 612.11 L611.44 610.58 L612.27 609.05 L613.10 607.51 L613.93 605.98 L614.76 604.43 L615.59 602.89 L616.42 601.34 L617.25 599.78 L618.08 598.22 L618.91 596.66 L619.74 595.10 L620.57 593.53 L621.40 591.95 L622.23 590.37 L623.06 588.79 L623.89 587.20 L624.72 585.61 L625.55 584.02 L626.38 582.42 L627.21 580.82 L628.04 579.21 L628.87 577.60 L629.69 575.99 L630.52 574.37 L631.35 572.75 L632.18 571.12 L633.01 569.50 L633.84 567.86 L634.67 566.22 L635.50 564.58 L636.33 562.94 L637.16 561.29 L637.99 559.64 L638.82 557.98 L639.65 556.32 L640.48 554.65 L641.31 552.99 L642.14 551.31 L642.97 549.64 L643.80 547.96 L644.63 546.27 L645.46 544.59 L646.29 542.90 L647.12 541.20 L647.95 539.50 L648.78 537.80 L649.61 536.09 L650.44 534.38 L651.27 532.67 L652.10 530.95 L652.93 529.23 L653.76 527.50 L654.59 525.77 L655.42 524.04 L656.25 522.30 L657.08 520.56 L657.91 518.82 L658.74 517.07 L659.57 515.32 L660.40 513.56 L661.23 511.80 L662.06 510.04 L662.89 508.27 L663.72 506.50 L664.55 504.73 L665.38 502.95 L666.21 501.17 L667.04 499.38 L667.86 497.59 L668.69 495.80 L669.52 494.00 L670.35 492.20 L671.18 490.40 L672.01 488.59 L672.84 486.78 L673.67 484.97 L674.50 483.15 L675.33 481.33 L676.16 479.50 L676.99 477.67 L677.82 475.84 L678.65 474.00 L679.48 472.16 L680.31 470.32 L681.14 468.47 L681.97 466.62 L682.80 464.76 L683.63 462.90 L684.46 461.04 L685.29 459.17 L686.12 457.31 L686.95 455.43" stroke="#0000ff" stroke-width="1.70"/>
</g>
<circle cx="193.66" cy="624.21" r="1.75" fill="#000"/>
<circle cx="197.66" cy="636.23" r="1.75" fill="#000"/>
<circle cx="201.82" cy="648.18" r="1.75" fill="#000"/>
<circle cx="206.13" cy="660.09" r="1.75" fill="#000"/>
<circle cx="210.62" cy="671.93" r="1.75" fill="#000"/>
<circle cx="215.28" cy="683.69" r="1.75" fill="#000"/>
<circle cx="220.14" cy="695.38" r="1.75" fill="#000"/>
<circle cx="225.21" cy="706.99" r="1.75" fill="#000"/>
<circle cx="230.50" cy="718.49" r="1.75" fill="#000"/>
<circle cx="236.04" cy="729.87" r="1.75" fill="#000"/>
<circle cx="241.83" cy="741.13" r="1.75" fill="#000"/>
<circle cx="247.92" cy="752.23" r="1.75" fill="#000"/>
<circle cx="254.32" cy="763.15" r="1.75" fill="#000"/>
<circle cx="261.07" cy="773.86" r="1.75" fill="#000"/>
<circle cx="268.20" cy="784.32" r="1.75" fill="#000"/>
<circle cx="275.75" cy="794.48" r="1.75" fill="#000"/>
<circle cx="283.78" cy="804.26" r="1.75" fill="#000"/>
<circle cx="292.34" cy="813.59" r="1.75" fill="#000"/>
<circle cx="301.48" cy="822.35" r="1.75" fill="#000"/>
<circle cx="311.26" cy="830.39" r="1.75" fill="#000"/>
<circle cx="321.71" cy="837.52" r="1.75" fill="#000"/>
<circle cx="332.84" cy="843.54" r="1.75" fill="#000"/>
<circle cx="344.61" cy="848.17" r="1.75" fill="#000"/>
<circle cx="356.90" cy="851.18" r="1.75" fill="#000"/>
<circle cx="369.49" cy="852.42" r="1.75" fill="#000"/>
<circle cx="382.12" cy="851.83" r="1.75" fill="#000"/>
<circle cx="394.56" cy="849.53" r="1.75" fill="#000"/>
<circle cx="406.62" cy="845.70" r="1.75" fill="#000"/>
<circle cx="418.20" cy="840.61" r="1.75" fill="#000"/>
<circle cx="429.27" cy="834.46" r="1.75" fill="#000"/>
<circle cx="439.82" cy="827.47" r="1.75" fill="#000"/>
<circle cx="449.88" cy="819.79" r="1.75" fill="#000"/>
<circle cx="459.49" cy="811.55" r="1.75" fill="#000"/>
<circle cx="468.70" cy="802.86" r="1.75" fill="#000"/>
<circle cx="477.52" cy="793.79" r="1.75" fill="#000"/>
<circle cx="486.01" cy="784.39" r="1.75" fill="#000"/>
<circle cx="494.20" cy="774.73" r="1.75" fill="#000"/>
<circle cx="502.10" cy="764.84" r="1.75" fill="#000"/>
<circle cx="509.75" cy="754.76" r="1.75" fill="#000"/>
<circle cx="517.16" cy="744.50" r="1.75" fill="#000"/>
<circle cx="524.37" cy="734.08" r="1.75" fill="#000"/>
<circle cx="531.37" cy="723.54" r="1.75" fill="#000"/>
<circle cx="538.20" cy="712.88" r="1.75" fill="#000"/>
<circle cx="544.85" cy="702.11" r="1.75" fill="#000"/>
<circle cx="551.35" cy="691.24" r="1.75" fill="#000"/>
<circle cx="557.70" cy="680.29" r="1.75" fill="#000"/>
<circle cx="563.92" cy="669.27" r="1.75" fill="#000"/>
<circle cx="570.01" cy="658.17" r="1.75" fill="#000"/>
<circle cx="575.98" cy="647.00" r="1.75" fill="#000"/>
<circle cx="581.84" cy="635.78" r="1.75" fill="#000"/>
<circle cx="587.59" cy="624.50" r="1.75" fill="#000"/>
<circle cx="593.24" cy="613.17" r="1.75" fill="#000"/>
<circle cx="598.80" cy="601.80" r="1.75" fill="#000"/>
<circle cx="604.26" cy="590.38" r="1.75" fill="#000"/>
<circle cx="609.64" cy="578.92" r="1.75" fill="#000"/>
<circle cx="614.94" cy="567.42" r="1.75" fill="#000"/>
<circle cx="620.16" cy="555.89" r="1.75" fill="#000"/>
<circle cx="625.31" cy="544.32" r="1.75" fill="#000"/>
<circle cx="630.38" cy="532.72" r="1.75" fill="#000"/>
<circle cx="635.39" cy="521.09" r="1.75" fill="#000"/>
<circle cx="640.34" cy="509.44" r="1.75" fill="#000"/>
<circle cx="645.22" cy="497.76" r="1.75" fill="#000"/>
<circle cx="650.04" cy="486.05" r="1.75" fill="#000"/>
<circle cx="654.80" cy="474.32" r="1.75" fill="#000"/>
<circle cx="659.51" cy="462.57" r="1.75" fill="#000"/>
<circle cx="664.16" cy="450.80" r="1.75" fill="#000"/>
<circle cx="668.77" cy="439.00" r="1.75" fill="#000"/>
<circle cx="673.32" cy="427.19" r="1.75" fill="#000"/>
<circle cx="677.83" cy="415.36" r="1.75" fill="#000"/>
<circle cx="682.29" cy="403.51" r="1.75" fill="#000"/>
<circle cx="686.70" cy="391.65" r="1.75" fill="#000"/>
<circle cx="193.60" cy="639.75" r="1.75" fill="#000"/>
<circle cx="197.34" cy="651.84" r="1.75" fill="#000"/>
<circle cx="201.27" cy="663.88" r="1.75" fill="#000"/>
<circle cx="205.39" cy="675.85" r="1.75" fill="#000"/>
<circle cx="209.74" cy="687.74" r="1.75" fill="#000"/>
<circle cx="214.31" cy="699.54" r="1.75" fill="#000"/>
<circle cx="219.13" cy="711.25" r="1.75" fill="#000"/>
<circle cx="224.21" cy="722.85" r="1.75" fill="#000"/>
<circle cx="229.58" cy="734.31" r="1.75" fill="#000"/>
<circle cx="235.27" cy="745.62" r="1.75" fill="#000"/>
<circle cx="241.30" cy="756.75" r="1.75" fill="#000"/>
<circle cx="247.70" cy="767.67" r="1.75" fill="#000"/>
<circle cx="254.52" cy="778.34" r="1.75" fill="#000"/>
<circle cx="261.79" cy="788.70" r="1.75" fill="#000"/>
<circle cx="269.56" cy="798.69" r="1.75" fill="#000"/>
<circle cx="277.88" cy="808.24" r="1.75" fill="#000"/>
<circle cx="286.79" cy="817.23" r="1.75" fill="#000"/>
<circle cx="296.32" cy="825.55" r="1.75" fill="#000"/>
<circle cx="306.52" cy="833.05" r="1.75" fill="#000"/>
<circle cx="317.37" cy="839.56" r="1.75" fill="#000"/>
<circle cx="328.84" cy="844.91" r="1.75" fill="#000"/>
<circle cx="340.83" cy="848.95" r="1.75" fill="#000"/>
<circle cx="353.20" cy="851.58" r="1.75" fill="#000"/>
<circle cx="365.80" cy="852.76" r="1.75" fill="#000"/>
<circle cx="378.45" cy="852.53" r="1.75" fill="#000"/>
<circle cx="391.02" cy="851.00" r="1.75" fill="#000"/>
<circle cx="403.38" cy="848.31" r="1.75" fill="#000"/>
<circle cx="415.49" cy="844.61" r="1.75" fill="#000"/>
<circle cx="427.30" cy="840.06" r="1.75" fill="#000"/>
<circle cx="438.80" cy="834.77" r="1.75" fill="#000"/>
<circle cx="449.99" cy="828.86" r="1.75" fill="#000"/>
<circle cx="460.90" cy="822.43" r="1.75" fill="#000"/>
<circle cx="471.52" cy="815.54" r="1.75" fill="#000"/>
<circle cx="481.89" cy="808.28" r="1.75" fill="#000"/>
<circle cx="492.01" cy="800.68" r="1.75" fill="#000"/>
<circle cx="501.91" cy="792.79" r="1.75" fill="#000"/>
<circle cx="511.61" cy="784.65" r="1.75" fill="#000"/>
<circle cx="521.11" cy="776.29" r="1.75" fill="#000"/>
<circle cx="530.44" cy="767.73" r="1.75" fill="#000"/>
<circle cx="539.61" cy="758.99" r="1.75" fill="#000"/>
<circle cx="548.62" cy="750.11" r="1.75" fill="#000"/>
<circle cx="557.50" cy="741.08" r="1.75" fill="#000"/>
<circle cx="566.24" cy="731.92" r="1.75" fill="#000"/>
<circle cx="574.87" cy="722.66" r="1.75" fill="#000"/>
<circle cx="583.38" cy="713.28" r="1.75" fill="#000"/>
<circle cx="591.78" cy="703.82" r="1.75" fill="#000"/>
<circle cx="600.09" cy="694.27" r="1.75" fill="#000"/>
<circle cx="608.31" cy="684.64" r="1.75" fill="#000"/>
<circle cx="616.44" cy="674.93" r="1.75" fill="#000"/>
<circle cx="624.49" cy="665.16" r="1.75" fill="#000"/>
<circle cx="632.47" cy="655.33" r="1.75" fill="#000"/>
<circle cx="640.37" cy="645.44" r="1.75" fill="#000"/>
<circle cx="648.21" cy="635.50" r="1.75" fill="#000"/>
<circle cx="655.99" cy="625.51" r="1.75" fill="#000"/>
<circle cx="663.70" cy="615.47" r="1.75" fill="#000"/>
<circle cx="671.36" cy="605.39" r="1.75" fill="#000"/>
<circle cx="678.97" cy="595.27" r="1.75" fill="#000"/>
<circle cx="686.53" cy="585.12" r="1.75" fill="#000"/>
<path d="M183.01 620.05H196.81M189.91 613.15V626.95M203.72 681.26H217.52M210.62 674.36V688.16M224.43 728.91H238.23M231.33 722.01V735.81M245.14 766.87H258.94M252.04 759.97V773.77M265.85 796.12H279.65M272.75 789.22V803.02M286.56 818.78H300.36M293.46 811.88V825.68M307.27 835.44H321.07M314.17 828.54V842.34M327.98 844.93H341.78M334.88 838.03V851.83M390.11 848.81H403.91M397.01 841.91V855.71M410.82 841.83H424.62M417.72 834.93V848.73M431.53 831.37H445.33M438.43 824.47V838.27M452.24 817.43H466.04M459.14 810.53V824.33M472.95 800.38H486.75M479.85 793.48V807.28M493.66 780.43H507.46M500.56 773.53V787.33M514.37 757.19H528.17M521.27 750.29V764.09M535.08 731.62H548.88M541.98 724.72V738.52M555.79 703.53H569.59M562.69 696.63V710.43M576.50 673.02H590.30M583.40 666.12V679.92M597.21 640.19H611.01M604.11 633.29V647.09M617.92 604.94H631.72M624.82 598.04V611.84M638.63 567.94H652.43M645.53 561.04V574.84M659.34 528.89H673.14M666.24 521.99V535.79" stroke="#000" stroke-width="1.60" fill="none"/>
<path d="M316.30 775.20V856.00" stroke="#000" stroke-width="2.70"/>
<path d="M428.10 775.20V856.00" stroke="#000" stroke-width="1.20"/>
<path d="M583.60 600.29V775.20" stroke="#000" stroke-width="1.20"/>
<path d="M210.62 856.00v-8.30M210.62 338.80v8.30M252.04 856.00v-8.30M252.04 338.80v8.30M293.46 856.00v-8.30M293.46 338.80v8.30M334.88 856.00v-8.30M334.88 338.80v8.30M376.30 856.00v-16.80M376.30 338.80v16.80M417.72 856.00v-8.30M417.72 338.80v8.30M459.14 856.00v-8.30M459.14 338.80v8.30M500.56 856.00v-8.30M500.56 338.80v8.30M541.98 856.00v-8.30M541.98 338.80v8.30M583.40 856.00v-16.80M583.40 338.80v16.80M624.82 856.00v-8.30M624.82 338.80v8.30M666.24 856.00v-8.30M666.24 338.80v8.30M169.10 852.25h16.80M687.00 852.25h-16.80M169.10 813.51h8.30M687.00 813.51h-8.30M169.10 774.77h16.80M687.00 774.77h-16.80M169.10 736.03h8.30M687.00 736.03h-8.30M169.10 697.29h16.80M687.00 697.29h-16.80M169.10 658.55h8.30M687.00 658.55h-8.30M169.10 619.81h16.80M687.00 619.81h-16.80M169.10 581.07h8.30M687.00 581.07h-8.30M169.10 542.33h16.80M687.00 542.33h-16.80M169.10 503.59h8.30M687.00 503.59h-8.30M169.10 464.85h16.80M687.00 464.85h-16.80M169.10 426.11h8.30M687.00 426.11h-8.30M169.10 387.37h16.80M687.00 387.37h-16.80M169.10 348.63h8.30M687.00 348.63h-8.30" stroke="#000" stroke-width="1.30" fill="none"/>
<rect x="169.10" y="338.80" width="517.90" height="517.20" fill="none" stroke="#000" stroke-width="1.60" stroke-linejoin="round"/>
<g font-family="Liberation Sans, sans-serif" font-size="33.50" fill="#000" opacity="0.999">
<text x="428.20" y="314.90" text-anchor="middle">HM/SM/FOPI</text>
<text x="109.09" y="864.10">-</text>
<path d="M359 0H271V505H102V568C190 572 250 600 295 709H359Z" transform="translate(120.25 864.10) scale(0.03350 -0.03350)"/>
<text x="138.87" y="864.10">6</text>
<text x="109.09" y="786.62">-</text>
<path d="M359 0H271V505H102V568C190 572 250 600 295 709H359Z" transform="translate(120.25 786.62) scale(0.03350 -0.03350)"/>
<text x="138.87" y="786.62">2</text>
<text x="127.72" y="709.14">-</text>
<text x="138.87" y="709.14">8</text>
<text x="127.72" y="631.66">-</text>
<text x="138.87" y="631.66">4</text>
<text x="138.87" y="554.18">0</text>
<text x="138.87" y="476.70">4</text>
<text x="138.87" y="399.22">8</text>
<path d="M359 0H271V505H102V568C190 572 250 600 295 709H359Z" transform="translate(366.99 892.00) scale(0.03350 -0.03350)"/>
<text x="574.09" y="892.00">2</text>
<text transform="translate(86.30 597.30) rotate(-90)" text-anchor="middle">E/A (MeV)</text>
<text transform="translate(394.20 941.20) scale(0.950 1)">ρ</text>
<text x="412.30" y="941.20">/</text>
<text transform="translate(430.50 941.20) scale(0.950 1)">ρ</text>
<text x="449.60" y="951.70" font-size="23.00">0</text>
</g></svg>
</body></html>
